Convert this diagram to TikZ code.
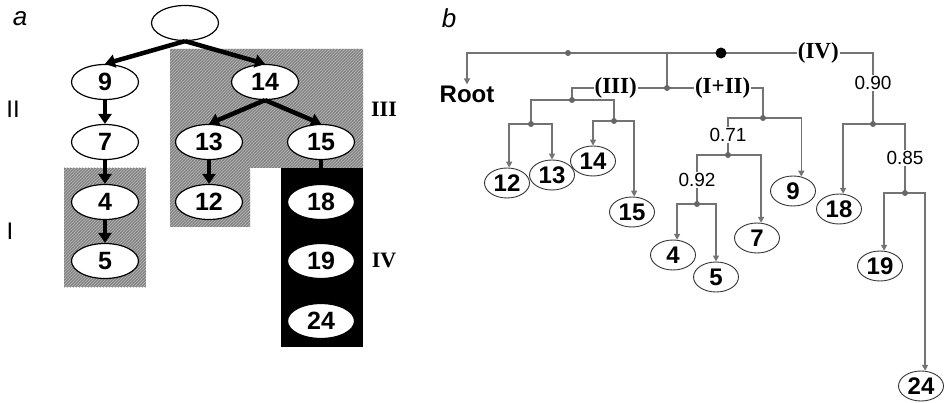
\documentclass[tikz,border=0pt]{standalone}
\usepackage{fontspec}
\setmainfont{Liberation Serif}
\setsansfont{Liberation Sans}
\usetikzlibrary{arrows.meta,patterns,shapes.geometric}

\begin{document}
\begin{tikzpicture}[x=1pt, y=-1pt,
    anode/.style={ellipse, draw, line width=1.2pt, fill=white, minimum width=67pt, minimum height=35pt, inner sep=0pt, font=\sffamily\bfseries\fontsize{25}{28}\selectfont},
    bnode/.style={ellipse, draw=black!80, line width=0.9pt, fill=white, minimum width=45pt, minimum height=30pt, inner sep=0pt, font=\sffamily\bfseries\fontsize{24}{28}\selectfont},
    fat/.style={line width=4.5pt, -{Triangle[length=10pt,width=13pt]}},
    hatch/.style={fill=black!48, postaction={pattern=north east lines, pattern color=black!28}},
    branch/.style={draw=black!55, line width=1.6pt},
    leaf/.style={branch, -{Triangle[length=6pt,width=6pt]}},
    jdot/.style={circle, fill=black!60, inner sep=0pt, minimum size=6pt},
    cut/.style={fill=white, inner sep=1.5pt, font=\sffamily\fontsize{19}{22}\selectfont},
    clade/.style={fill=white, inner sep=1pt, font=\bfseries\fontsize{23}{26}\selectfont},
    tag/.style={font=\sffamily\itshape\fontsize{26}{30}\selectfont},
    grp/.style={font=\bfseries\fontsize{22}{26}\selectfont}]
  \useasboundingbox (0,0) rectangle (944,403);

  % panel a
  \node[tag] (ta) at (20,19) {a};
  \fill[hatch] (170,49) -- (363,49) -- (363,168) -- (250,168) -- (250,227) -- (170,227) -- cycle;
  \fill[hatch] (64,168) rectangle (146,287);
  \fill[black] (281,168) rectangle (363,347);

  \node[anode] (a0) at (185,23) {};
  \node[anode] (a9) at (105,82) {9};
  \node[anode] (a14) at (265,82) {14};
  \node[anode] (a7) at (105,142) {7};
  \node[anode] (a13) at (209,142) {13};
  \node[anode] (a15) at (321,142) {15};
  \node[anode] (a4) at (105,202) {4};
  \node[anode] (a12) at (209,202) {12};
  \node[anode] (a18) at (321,202) {18};
  \node[anode] (a5) at (105,261) {5};
  \node[anode] (a19) at (321,261) {19};
  \node[anode] (a24) at (321,321) {24};

  \draw[fat] (a0.south) -- (a9.north);
  \draw[fat] (a0.south) -- (a14.north);
  \draw[fat] (a9) -- (a7);
  \draw[fat] (a7) -- (a4);
  \draw[fat] (a4) -- (a5);
  \draw[fat] (a14.south) -- (a13.north);
  \draw[fat] (a14.south) -- (a15.north);
  \draw[fat] (a13) -- (a12);
  \draw[line width=4.5pt] (a15) -- (a18);

  \node[font=\sffamily\fontsize{24}{28}\selectfont] (gII) at (13,109) {II};
  \node[font=\sffamily\fontsize{24}{28}\selectfont] (gI) at (10,231) {I};
  \node[grp] (gIII) at (384,109) {III};
  \node[grp] (gIV) at (384,260) {IV};

  % panel b
  \node[tag] (tb) at (449,18) {b};
  \node[font=\sffamily\bfseries\fontsize{24}{28}\selectfont, inner sep=1pt] (root) at (467,94) {Root};

  \node[bnode] (b12) at (507,183) {12};
  \node[bnode] (b13) at (552,175) {13};
  \node[bnode] (b14) at (593,161) {14};
  \node[bnode] (b15) at (632,212) {15};
  \node[bnode] (b4) at (673,255) {4};
  \node[bnode] (b5) at (716,277) {5};
  \node[bnode] (b7) at (757,238) {7};
  \node[bnode] (b9) at (793,191) {9};
  \node[bnode] (b18) at (839,209) {18};
  \node[bnode] (b19) at (880,266) {19};
  \node[bnode] (b24) at (921,386) {24};

  \coordinate (j0) at (721,53);
  \coordinate (jr) at (568,53);
  \coordinate (jA) at (667,88);
  \coordinate (jIII) at (572,100);
  \coordinate (j1213) at (531,124);
  \coordinate (j1415) at (614,121);
  \coordinate (jI) at (763,118);
  \coordinate (j7) at (728,155);
  \coordinate (j45) at (697,204);
  \coordinate (jIV) at (873,124);
  \coordinate (j1924) at (905,193);

  \draw[leaf] (jr) -| (root);
  \draw[branch] (j0) -| (jr);
  \draw[branch] (jr) -| (jA);
  \draw[branch] (j0) -| (jIV) node[clade, pos=0.32] {(IV)} node[cut, pos=0.71] {0.90};
  \draw[branch] (jA) -| (jIII) node[clade, pos=0.27] {(III)};
  \draw[branch] (jA) -| (jI) node[clade, pos=0.29] {(I+II)};
  \draw[branch] (jIII) -| (j1213);
  \draw[branch] (jIII) -| (j1415);
  \draw[leaf] (j1213) -| (b12.82);
  \draw[leaf] (j1213) -| (b13.north);
  \draw[leaf] (j1415) -| (b14.north);
  \draw[leaf] (j1415) -| (b15.82);
  \draw[branch] (jI) -| (j7) node[cut, pos=0.73] {0.71};
  \draw[leaf] (jI) -| (b9.60);
  \draw[branch] (j7) -| (j45) node[cut, pos=0.755] {0.92};
  \draw[leaf] (j7) -| (b7.75);
  \draw[leaf] (j45) -| (b4.75);
  \draw[leaf] (j45) -| (b5.north);
  \draw[leaf] (jIV) -| (b18.75);
  \draw[branch] (jIV) -| (j1924) node[cut, pos=0.746] {0.85};
  \draw[leaf] (j1924) -| (b19.75);
  \draw[leaf] (j1924) -| (b24.75);

  \foreach \j in {jr,jA,jIII,j1213,j1415,jI,j7,j45,jIV,j1924}
    \node[jdot] at (\j) {};
  \node[jdot, fill=black, minimum size=11pt] at (j0) {};
\end{tikzpicture}
\end{document}
